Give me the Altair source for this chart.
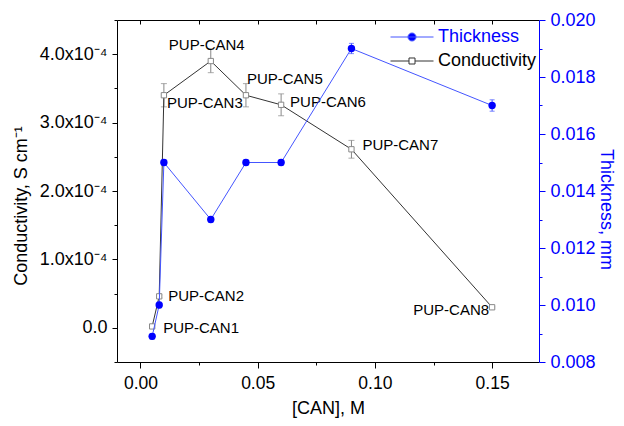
import altair as alt
import pandas as pd

labels = ["PUP-CAN1", "PUP-CAN2", "PUP-CAN3", "PUP-CAN4",
          "PUP-CAN5", "PUP-CAN6", "PUP-CAN7", "PUP-CAN8"]
can = [0.005, 0.008, 0.010, 0.030, 0.045, 0.060, 0.090, 0.150]
conductivity = [0.02e-4, 0.46e-4, 3.40e-4, 3.90e-4, 3.40e-4, 3.26e-4, 2.61e-4, 0.30e-4]
cond_err = [0.01e-4, 0.02e-4, 0.17e-4, 0.17e-4, 0.17e-4, 0.16e-4, 0.13e-4, 0.01e-4]
thickness = [0.0089, 0.0100, 0.0150, 0.0130, 0.0150, 0.0150, 0.0190, 0.0170]
thick_err = [0.0001, 0.0001, 0.0001, 0.0001, 0.0001, 0.0001, 0.00018, 0.0002]

x_ticks = [0.0, 0.025, 0.05, 0.075, 0.10, 0.125, 0.15]
y_left_ticks = [-0.5e-4, 0.0, 0.5e-4, 1.0e-4, 1.5e-4, 2.0e-4, 2.5e-4,
                3.0e-4, 3.5e-4, 4.0e-4, 4.5e-4]
y_right_ticks = [0.008, 0.009, 0.010, 0.011, 0.012, 0.013, 0.014, 0.015,
                 0.016, 0.017, 0.018, 0.019, 0.020]

df = pd.DataFrame({
    "label": labels, "can": can,
    "cond": conductivity, "cond_lo": [c - e for c, e in zip(conductivity, cond_err)],
    "cond_hi": [c + e for c, e in zip(conductivity, cond_err)],
    "thk": thickness, "thk_lo": [t - e for t, e in zip(thickness, thick_err)],
    "thk_hi": [t + e for t, e in zip(thickness, thick_err)],
})

FONT = "Liberation Sans"
BLUE = "#0000ff"
LINE_BLUE = "#4455ff"

xdom = [-0.01, 0.17]
x_scale = alt.Scale(domain=xdom, nice=False, zero=False)

x_major_test = "round(datum.value*40) % 2 == 0"
x_axis_bottom = alt.Axis(
    orient="bottom", values=x_ticks,
    labelExpr=x_major_test + " ? format(datum.value, '.2f') : ''",
    tickSize={"condition": {"test": x_major_test, "value": 6}, "value": 3},
    labelFontSize=17.5, titleFontSize=18, labelPadding=6, labelOverlap=False,
    titleX=211, titleY=51, titleBaseline="alphabetic", titleAlign="center")
x_bottom_enc = dict(field="can", type="quantitative", scale=x_scale, title="[CAN], M",
                    axis=x_axis_bottom)
x_axis_top = alt.Axis(orient="top", values=x_ticks, labels=False, title=None,
                      tickSize={"expr": "-4"})
x_top_enc = dict(field="can", type="quantitative", scale=x_scale, axis=x_axis_top)

y_cond_scale = alt.Scale(domain=[-0.5e-4, 4.5e-4], nice=False, zero=False)
y_major_test = "round(datum.value*20000) % 2 == 0"
cond_label_expr = ("(" + y_major_test + ") ? (round(datum.value*10000) == 0 ? '0.0' : "
                   "format(datum.value*10000, '.1f') + 'x10\u207b\u2074') : ''")
y_cond_axis = alt.Axis(
    orient="left", values=y_left_ticks, labelExpr=cond_label_expr,
    tickSize={"condition": {"test": y_major_test, "value": 5}, "value": 3},
    labelFontSize=18, titleFontSize=18, labelOverlap=False, labelPadding=5,
    titleX=-96, titleY=185.5, titleAngle=270, titleBaseline="middle", titleAlign="center")
y_cond_title = "Conductivity, S cm\u207b\u00b9"

y_thk_scale = alt.Scale(domain=[0.008, 0.020], nice=False, zero=False)
y_thk_test = "round(datum.value*1000) % 2 == 0"
y_thk_axis = alt.Axis(
    orient="right", values=y_right_ticks,
    labelExpr="(" + y_thk_test + ") ? format(datum.value, '.3f') : ''",
    tickSize={"condition": {"test": y_thk_test, "value": 6}, "value": 3},
    domainColor=BLUE, tickColor=BLUE, labelColor=BLUE, titleColor=BLUE,
    labelFontSize=18, titleFontSize=18, labelOverlap=False, labelPadding=5,
    titleX=66, titleY=189, titleAngle=90, titleBaseline="middle", titleAlign="center")
y_thk_title = "Thickness, mm"


def xb():
    return alt.X(**x_bottom_enc)


def xt():
    return alt.X(**x_top_enc)


def yc(field):
    return alt.Y(field + ":Q", scale=y_cond_scale, axis=y_cond_axis, title=y_cond_title)


def yt(field):
    return alt.Y(field + ":Q", scale=y_thk_scale, axis=y_thk_axis, title=y_thk_title)


base = alt.Chart(df)

thk_path = "M-1,0H1M0.186,0A0.186,0.186,0,1,1,-0.186,0A0.186,0.186,0,1,1,0.186,0Z"
cond_path = "M-1,0H-0.14M0.14,0H1M-0.14,-0.14H0.14V0.14H-0.14Z"

# conductivity group
c_err = base.mark_rule(color="#888888", strokeWidth=1).encode(
    x=xb(), y=yc("cond_lo"), y2="cond_hi:Q")
c_cap_lo = base.mark_tick(color="#888888", orient="horizontal", size=6, thickness=1).encode(
    x=xb(), y=yc("cond_lo"))
c_cap_hi = base.mark_tick(color="#888888", orient="horizontal", size=6, thickness=1).encode(
    x=xb(), y=yc("cond_hi"))
c_line = base.transform_calculate(series="'Conductivity'").mark_line(strokeWidth=1).encode(
    x=xb(), y=yc("cond"),
    color=alt.Color("series:N", scale=alt.Scale(domain=["Conductivity"], range=["#333333"]),
                    legend=alt.Legend(title=None, orient="none", legendX=273, legendY=19,
                                      symbolType=cond_path, symbolSize=1849,
                                      symbolFillColor="white", symbolStrokeColor="#333333",
                                      symbolStrokeWidth=1, labelFontSize=18, labelFont=FONT,
                                      labelColor="black", labelOffset=4, padding=0)))
c_pts = base.mark_point(shape="square", size=28, filled=True, fill="white",
                        stroke="#888888", strokeWidth=1, opacity=1).encode(x=xb(), y=yc("cond"))

label_style = {
    "PUP-CAN1": ("left", 11, 2),
    "PUP-CAN2": ("left", 9, 0),
    "PUP-CAN3": ("left", 3, 8),
    "PUP-CAN4": ("center", -4, -16),
    "PUP-CAN5": ("left", 1, -16),
    "PUP-CAN6": ("left", 9, -3),
    "PUP-CAN7": ("left", 11, -4),
    "PUP-CAN8": ("right", -3, 3),
}
texts = []
for lab, (al, dx, dy) in label_style.items():
    texts.append(base.transform_filter(alt.datum.label == lab).mark_text(
        align=al, baseline="middle", dx=dx, dy=dy, fontSize=15, font=FONT, color="black"
    ).encode(x=xb(), y=yc("cond"), text="label:N"))

cond_group = alt.layer(c_err, c_cap_lo, c_cap_hi, c_line, c_pts, *texts)

# thickness group
t_err = base.mark_rule(color=LINE_BLUE, strokeWidth=1).encode(
    x=xt(), y=yt("thk_lo"), y2="thk_hi:Q")
t_cap_lo = base.mark_tick(color=LINE_BLUE, orient="horizontal", size=5, thickness=1).encode(
    x=xt(), y=yt("thk_lo"))
t_cap_hi = base.mark_tick(color=LINE_BLUE, orient="horizontal", size=5, thickness=1).encode(
    x=xt(), y=yt("thk_hi"))
t_line = base.transform_calculate(series="'Thickness'").mark_line(strokeWidth=1).encode(
    x=xt(), y=yt("thk"),
    color=alt.Color("series:N", scale=alt.Scale(domain=["Thickness"], range=[LINE_BLUE]),
                    legend=alt.Legend(title=None, orient="none", legendX=273, legendY=-5,
                                      symbolType=thk_path, symbolSize=1849,
                                      symbolFillColor=BLUE, symbolStrokeColor=BLUE,
                                      symbolStrokeWidth=1, labelFontSize=18, labelFont=FONT,
                                      labelColor=BLUE, labelOffset=4, padding=0)))
t_pts = base.mark_point(shape="circle", size=55, filled=True, color=BLUE, opacity=1).encode(
    x=xt(), y=yt("thk"))

thk_group = alt.layer(t_err, t_cap_lo, t_cap_hi, t_line, t_pts)

chart = alt.layer(cond_group, thk_group).resolve_scale(
    x="independent", y="independent", color="independent"
).properties(
    width=422, height=342,
    autosize=alt.AutoSizeParams(type="none"),
    padding={"left": 109, "top": 12, "right": 77, "bottom": 56},
    background="white",
).configure_view(stroke=None).configure_axis(
    grid=False, domainColor="black", tickColor="black", labelColor="black",
    titleColor="black", labelFont=FONT, titleFont=FONT, titleFontWeight="normal",
    domainWidth=1, tickWidth=1,
)

chart.save("out.html", embed_options={"renderer": "svg", "actions": False})
